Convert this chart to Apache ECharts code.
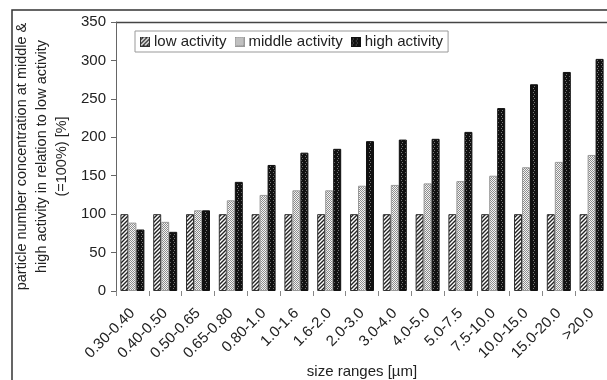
<!DOCTYPE html>
<html>
<head>
<meta charset="utf-8">
<script src="https://cdn.jsdelivr.net/npm/echarts@6/dist/echarts.min.js"></script>
<style>
html,body{margin:0;padding:0;background:#fff;}
#graph{width:607px;height:380px;}
</style>
</head>
<body>
<div id="graph"></div>
<script>
var categories = ['0.30-0.40','0.40-0.50','0.50-0.65','0.65-0.80','0.80-1.0','1.0-1.6','1.6-2.0','2.0-3.0','3.0-4.0','4.0-5.0','5.0-7.5','7.5-10.0','10.0-15.0','15.0-20.0','>20.0'];
var lowActivity = [100,100,100,100,100,100,100,100,100,100,100,100,100,100,100];
var middleActivity = [89,90,105,118,125,131,131,137,138,140,143,150,161,168,177];
var highActivity = [80,77,105,142,164,180,185,195,197,198,207,238,269,285,302];
var seriesNames = ['low activity','middle activity','high activity'];
var yTicks = [0,50,100,150,200,250,300,350];

// fill patterns (hatch / dots / dark)
function makeTile(kind){
    var c = document.createElement('canvas');
    var ctx = c.getContext('2d');
    if(kind==='low'){
        c.width=4;c.height=4;
        ctx.fillStyle='#fff';ctx.fillRect(0,0,4,4);
        ctx.strokeStyle='#222';ctx.lineWidth=1.4;
        ctx.beginPath();
        ctx.moveTo(-1,5);ctx.lineTo(5,-1);
        ctx.moveTo(-1,1);ctx.lineTo(1,-1);
        ctx.moveTo(3,5);ctx.lineTo(5,3);
        ctx.stroke();
    }else if(kind==='mid'){
        c.width=2;c.height=2;
        ctx.fillStyle='#f4f4f4';ctx.fillRect(0,0,2,2);
        ctx.fillStyle='#8c8c8c';
        ctx.fillRect(0,0,1,1);ctx.fillRect(1,1,1,1);
    }else{
        c.width=4;c.height=4;
        ctx.fillStyle='#111';ctx.fillRect(0,0,4,4);
        ctx.fillStyle='#777';
        ctx.fillRect(1,0,1,1);ctx.fillRect(2,2,1,1);
    }
    return c;
}
var tiles = {low:makeTile('low'), mid:makeTile('mid'), high:makeTile('high')};

function makeSwatch(kind, border){
    var c = document.createElement('canvas');
    c.width=10;c.height=10;
    var ctx=c.getContext('2d');
    ctx.fillStyle=ctx.createPattern(tiles[kind],'repeat');
    ctx.fillRect(0,0,10,10);
    ctx.strokeStyle=border;ctx.lineWidth=1;
    ctx.strokeRect(0.5,0.5,9,9);
    return 'image://'+c.toDataURL();
}

function barSeries(name, data, kind, border){
    return {
        name:name,
        type:'bar',
        data:data,
        barWidth:8,
        barGap:'0%',
        itemStyle:{
            color:{image:tiles[kind], repeat:'repeat'},
            borderColor:border,
            borderWidth:1
        }
    };
}

var chart = echarts.init(document.getElementById('graph'));
var option = {
    backgroundColor:'#fff',
    animation:false,
    textStyle:{fontFamily:'Liberation Sans, Arial, sans-serif'},
    grid:{left:116, top:22, width:492, height:269, outerBoundsMode:'none', containLabel:false},
    legend:{
        left:135, top:31,
        itemWidth:10, itemHeight:10, itemGap:8,
        padding:[3,5,3,5],
        borderColor:'#999', borderWidth:1,
        textStyle:{fontSize:15, color:'#222', padding:[0,0,0,-1]},
        data:[
            {name:seriesNames[0], icon:makeSwatch('low','#333')},
            {name:seriesNames[1], icon:makeSwatch('mid','#999')},
            {name:seriesNames[2], icon:makeSwatch('high','#111')}
        ]
    },
    xAxis:{
        type:'category',
        data:categories,
        name:'size ranges [µm]',
        nameLocation:'middle',
        nameGap:73,
        nameMoveOverlap:false,
        nameTextStyle:{fontSize:15, color:'#222'},
        axisLine:{show:false},
        axisTick:{show:true, length:5, lineStyle:{color:'#888'}},
        axisLabel:{rotate:45, fontSize:15, color:'#222', margin:20, interval:0}
    },
    yAxis:{
        type:'value',
        min:yTicks[0], max:yTicks[yTicks.length-1], interval:50,
        name:'particle number concentration at middle &\nhigh activity in relation to low activity\n(=100%) [%]',
        nameLocation:'middle',
        nameGap:44,
        nameMoveOverlap:false,
        nameTextStyle:{fontSize:14.5, color:'#222', lineHeight:20},
        axisLine:{show:true, lineStyle:{color:'#666'}},
        axisTick:{show:true, length:5, lineStyle:{color:'#666'}},
        axisLabel:{fontSize:15, color:'#222', margin:10},
        splitLine:{show:false}
    },
    graphic:[
        {type:'rect', shape:{x:12, y:10, width:640, height:420}, style:{fill:null, stroke:'#333', lineWidth:1.5}, silent:true},
        {type:'line', shape:{x1:116, y1:22.5, x2:607, y2:22.5}, style:{stroke:'#444', lineWidth:1.5}, silent:true}
    ],
    series:[
        barSeries(seriesNames[0], lowActivity, 'low', '#333'),
        barSeries(seriesNames[1], middleActivity, 'mid', '#999'),
        barSeries(seriesNames[2], highActivity, 'high', '#111')
    ]
};
chart.setOption(option);
</script>
</body>
</html>
